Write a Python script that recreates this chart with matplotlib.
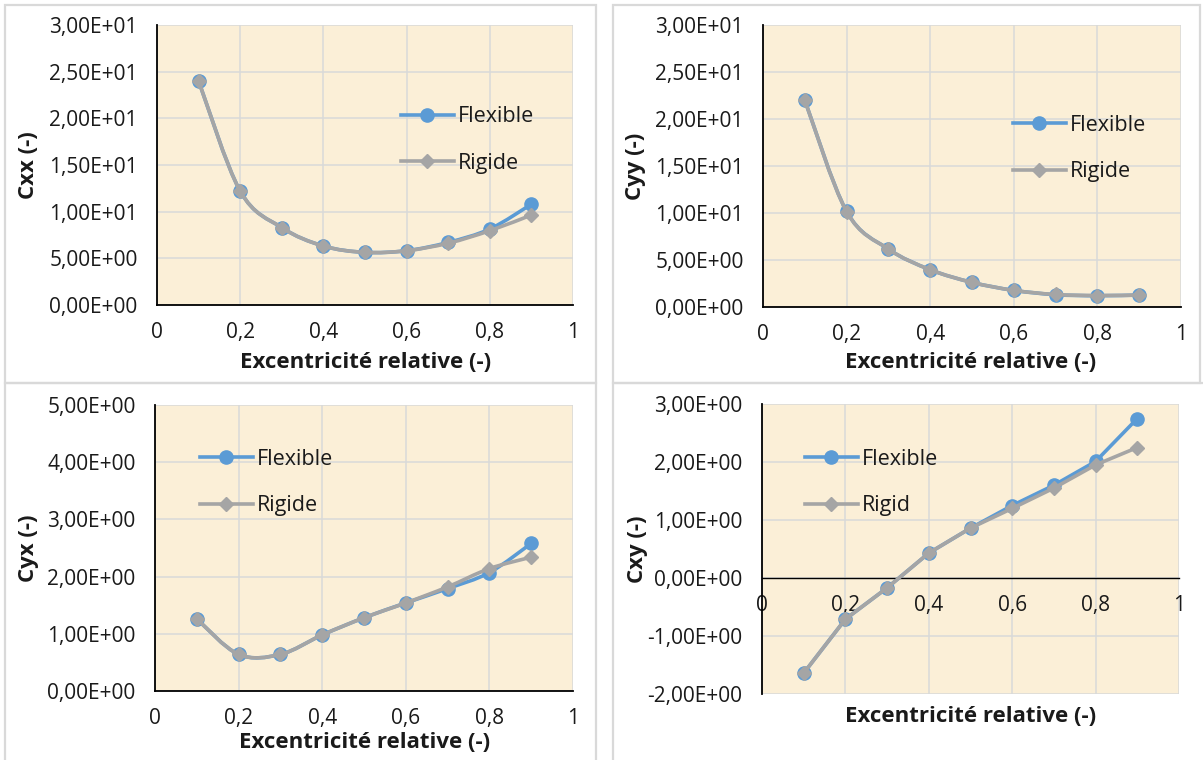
import matplotlib
matplotlib.use("Agg")
import matplotlib.pyplot as plt
from matplotlib.path import Path
from matplotlib.patches import PathPatch, Rectangle
from matplotlib.lines import Line2D
from matplotlib.ticker import FuncFormatter, MultipleLocator

plt.rcParams['font.family'] = ['Open Sans', 'DejaVu Sans']

# ---- data -------------------------------------------------------------
eps = [0.1, 0.2, 0.3, 0.4, 0.5, 0.6, 0.7, 0.8, 0.9]

cxx_flex = [24.0, 12.2, 8.29, 6.32, 5.64, 5.82, 6.71, 8.14, 10.8]
cxx_rig = [24.0, 12.2, 8.29, 6.32, 5.64, 5.82, 6.62, 7.96, 9.64]

cyy_flex = [22.0, 10.17, 6.16, 3.97, 2.62, 1.77, 1.31, 1.20, 1.27]
cyy_rig = [22.0, 10.15, 6.16, 3.97, 2.62, 1.77, 1.33, 1.22, 1.27]

cyx_flex = [1.26, 0.64, 0.64, 0.98, 1.28, 1.54, 1.79, 2.07, 2.58]
cyx_rig = [1.26, 0.64, 0.64, 0.98, 1.28, 1.54, 1.82, 2.14, 2.34]

cxy_flex = [-1.64, -0.71, -0.17, 0.43, 0.86, 1.25, 1.60, 2.01, 2.75]
cxy_rig = [-1.64, -0.71, -0.17, 0.43, 0.86, 1.20, 1.55, 1.95, 2.25]

x_label = "Excentricité relative (-)"

# ---- style ------------------------------------------------------------
W, H = 1203, 760
BLUE = '#5B9BD5'
GREY = '#A5A5A5'
PAPER = '#FBEFD7'
GRID = '#D9D9D9'
TXT = '#1a1a1a'
TICK_FS = 15
LEG_FS = 15.5
TITLE_FS = 16

fig = plt.figure(figsize=(W / 100, H / 100), dpi=100)
fig.patch.set_facecolor('white')


def frac_x(px):
    return px / W


def frac_y(py):
    return 1 - py / H


def axes_px(x0, x1, ytop, ybot):
    return fig.add_axes([x0 / W, 1 - ybot / H, (x1 - x0) / W, (ybot - ytop) / H])


def panel_border(x0, x1, ytop, ybot):
    fig.patches.append(Rectangle((frac_x(x0), frac_y(ybot)),
                                 (x1 - x0) / W, (ybot - ytop) / H,
                                 transform=fig.transFigure, fill=False,
                                 edgecolor=GRID, lw=1.6, zorder=0))


def smooth_path(xs, ys):
    """Cubic Bezier path through the points (Catmull-Rom style tangents)."""
    pts = list(zip(xs, ys))
    n = len(pts)
    verts = [pts[0]]
    codes = [Path.MOVETO]
    for i in range(n - 1):
        p0 = pts[i - 1] if i > 0 else pts[i]
        p1 = pts[i]
        p2 = pts[i + 1]
        p3 = pts[i + 2] if i + 2 < n else pts[i + 1]
        c1 = (p1[0] + (p2[0] - p0[0]) / 6.0, p1[1] + (p2[1] - p0[1]) / 6.0)
        c2 = (p2[0] - (p3[0] - p1[0]) / 6.0, p2[1] - (p3[1] - p1[1]) / 6.0)
        verts += [c1, c2, p2]
        codes += [Path.CURVE4] * 3
    return Path(verts, codes)


def sci_fmt(v, pos):
    return ('%.2E' % v).replace('.', ',')


def x_fmt(v, pos):
    return ('%g' % round(v, 3)).replace('.', ',')


def draw_series(ax, ys, color, marker, msize, z, smooth):
    if smooth:
        ax.add_patch(PathPatch(smooth_path(eps, ys), fill=False, edgecolor=color,
                               lw=2.6, capstyle='round', joinstyle='round',
                               zorder=z))
    else:
        ax.plot(eps, ys, color=color, lw=2.6, solid_joinstyle='round',
                solid_capstyle='round', zorder=z)
    ax.plot(eps, ys, ls='none', marker=marker, ms=msize, color=color,
            mec=color, zorder=z + 0.5, clip_on=False)


def make_panel(box, ylim, ystep, yname, flex, rig, rig_name, legend_px,
               xlabel_px, ylabel_px, smooth=True, zero_axis=False):
    x0, x1, ytop, ybot = box
    ax = axes_px(x0, x1, ytop, ybot)
    ax.set_facecolor(PAPER)
    ax.set_xlim(0, 1)
    ax.set_ylim(*ylim)
    ax.xaxis.set_major_locator(MultipleLocator(0.2))
    ax.yaxis.set_major_locator(MultipleLocator(ystep))
    ax.xaxis.set_major_formatter(FuncFormatter(x_fmt))
    ax.yaxis.set_major_formatter(FuncFormatter(sci_fmt))
    ax.grid(True, color=GRID, lw=1.1, zorder=0)
    ax.set_axisbelow(True)
    for s in ('top', 'right'):
        ax.spines[s].set_visible(False)
    ax.spines['left'].set_color('black')
    ax.spines['left'].set_linewidth(1.3)
    ax.spines['bottom'].set_color('black')
    ax.spines['bottom'].set_linewidth(1.3 if not zero_axis else 1.0)
    if zero_axis:
        ax.spines['bottom'].set_position(('data', 0))
    ax.tick_params(axis='both', length=0, labelsize=TICK_FS, labelcolor=TXT)
    ax.tick_params(axis='x', pad=12)
    ax.tick_params(axis='y', pad=14)

    draw_series(ax, flex, BLUE, 'o', 9.5, 2, smooth)
    draw_series(ax, rig, GREY, 'D', 7.5, 4, smooth)

    handles = [Line2D([], [], color=BLUE, lw=2.6, marker='o', ms=9.5),
               Line2D([], [], color=GREY, lw=2.6, marker='D', ms=7.5)]
    lx, ly = legend_px
    ax.legend(handles, ['Flexible', rig_name], loc='center left',
              bbox_to_anchor=(frac_x(lx), frac_y(ly)),
              bbox_transform=fig.transFigure, frameon=False,
              fontsize=LEG_FS, handlelength=2.45, handletextpad=0.2,
              labelspacing=1.2, borderpad=0, borderaxespad=0,
              labelcolor=TXT)

    # axis titles placed by their centres (pixel positions)
    xl = ax.set_xlabel(x_label, fontsize=TITLE_FS, fontweight='bold', color=TXT)
    xl.set_va('center')
    cx, cy = xlabel_px
    ax.xaxis.set_label_coords((cx - x0) / (x1 - x0), (ybot - cy) / (ybot - ytop))
    yl = ax.set_ylabel(yname, fontsize=TITLE_FS, fontweight='bold', color=TXT)
    yl.set_va('center')
    ax.yaxis.set_label_coords((ylabel_px - x0) / (x1 - x0), 0.5)
    return ax


# panel frames
panel_border(5, 596, 5, 383)
panel_border(613, 1200, 5, 383)
panel_border(5, 596, 383, 762)
panel_border(613, 1205, 383, 762)

make_panel((157, 573, 25, 305), (0, 30), 5, 'Cxx (-)', cxx_flex, cxx_rig,
           'Rigide', (401, 140), (366, 362), 29)
make_panel((763, 1181, 25, 307), (0, 30), 5, 'Cyy (-)', cyy_flex, cyy_rig,
           'Rigide', (1013, 148.5), (971, 362), 636)
make_panel((155, 573, 405, 691), (0, 5), 1, 'Cyx (-)', cyx_flex, cyx_rig,
           'Rigide', (200, 482.5), (365, 743), 29)
make_panel((762, 1179, 404, 694), (-2, 3), 1, 'Cxy (-)', cxy_flex, cxy_rig,
           'Rigid', (805, 482.5), (971, 717), 638, smooth=False,
           zero_axis=True)

fig.savefig('out.png', dpi=100, facecolor='white')
